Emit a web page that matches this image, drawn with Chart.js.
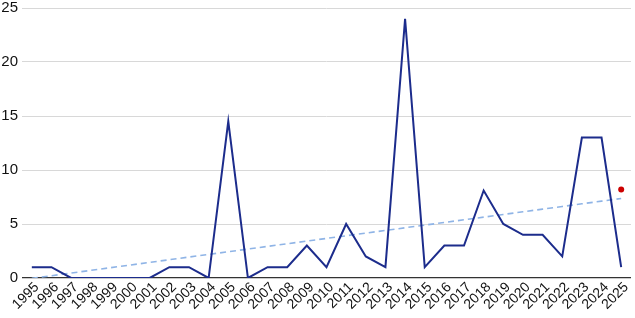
<!DOCTYPE html>
<html>
<head>
<meta charset="utf-8">
<script src="https://cdn.jsdelivr.net/npm/chart.js@4.4.1/dist/chart.umd.min.js"></script>
<style>
  html, body { margin: 0; padding: 0; background: #fff; }
  #wrap { width: 635px; height: 318px; }
</style>
</head>
<body>
<div id="wrap"><canvas id="chart"></canvas></div>
<script>
// data
const years = [1995, 1996, 1997, 1998, 1999, 2000, 2001, 2002, 2003, 2004,
  2005, 2006, 2007, 2008, 2009, 2010, 2011, 2012, 2013, 2014,
  2015, 2016, 2017, 2018, 2019, 2020, 2021, 2022, 2023, 2024, 2025];
const counts = [1, 1, 0, 0, 0, 0, 0, 1, 1, 0,
  14.5, 0, 1, 1, 3, 1, 5, 2, 1, 24,
  1, 3, 3, 8.1, 5, 4, 4, 2, 13, 13, 1];
const projection = [null, null, null, null, null, null, null, null, null, null,
  null, null, null, null, null, null, null, null, null, null,
  null, null, null, null, null, null, null, null, null, null, 8.2];
const yTicks = [0, 5, 10, 15, 20, 25];

// least squares trend of the counts
function trend(vals) {
  const n = vals.length;
  let sx = 0, sy = 0, sxy = 0, sxx = 0;
  vals.forEach((v, i) => { sx += i; sy += v; sxy += i * v; sxx += i * i; });
  const b = (n * sxy - sx * sy) / (n * sxx - sx * sx);
  const a = (sy - b * sx) / n;
  return vals.map((v, i) => a + b * i);
}

const ctx = document.getElementById('chart').getContext('2d');
new Chart(ctx, {
  type: 'line',
  data: {
    labels: years.map(String),
    datasets: [{
      data: counts,
      borderColor: '#1c2c8c',
      borderWidth: 2,
      pointRadius: 0,
      tension: 0,
      order: 1
    }, {
      data: trend(counts),
      borderColor: '#8fb4e6',
      borderWidth: 1.6,
      borderDash: [6, 4],
      pointRadius: 0,
      order: 2
    }, {
      data: projection,
      showLine: false,
      pointRadius: 3,
      pointBackgroundColor: '#cc0000',
      pointBorderWidth: 0,
      order: 0
    }]
  },
  options: {
    responsive: true,
    maintainAspectRatio: false,
    animation: false,
    layout: { padding: { top: 0, right: 3, left: 0, bottom: 0 } },
    plugins: { legend: { display: false }, tooltip: { enabled: false } },
    scales: {
      x: {
        offset: true,
        grid: { display: false },
        border: { display: false },
        ticks: {
          color: '#111',
          font: { family: 'Liberation Sans, Arial', size: 14 },
          minRotation: 45, maxRotation: 45,
          autoSkip: false,
          padding: -7,
          labelOffset: 5
        },
        afterFit: s => { s.height = 40; }
      },
      y: {
        min: 0, max: 25,
        afterBuildTicks: s => { s.ticks = yTicks.map(v => ({ value: v })); },
        grid: {
          color: c => c.tick.value === 0 ? '#333' : '#d8d8d8',
          lineWidth: c => c.tick.value === 0 ? 1.2 : 1,
          drawTicks: false
        },
        border: { display: false },
        ticks: {
          color: '#111',
          font: { family: 'Liberation Sans, Arial', size: 15 },
          padding: 4
        },
        afterFit: s => { s.width = 22; s.paddingTop = 8; }
      }
    }
  }
});
</script>
</body>
</html>
